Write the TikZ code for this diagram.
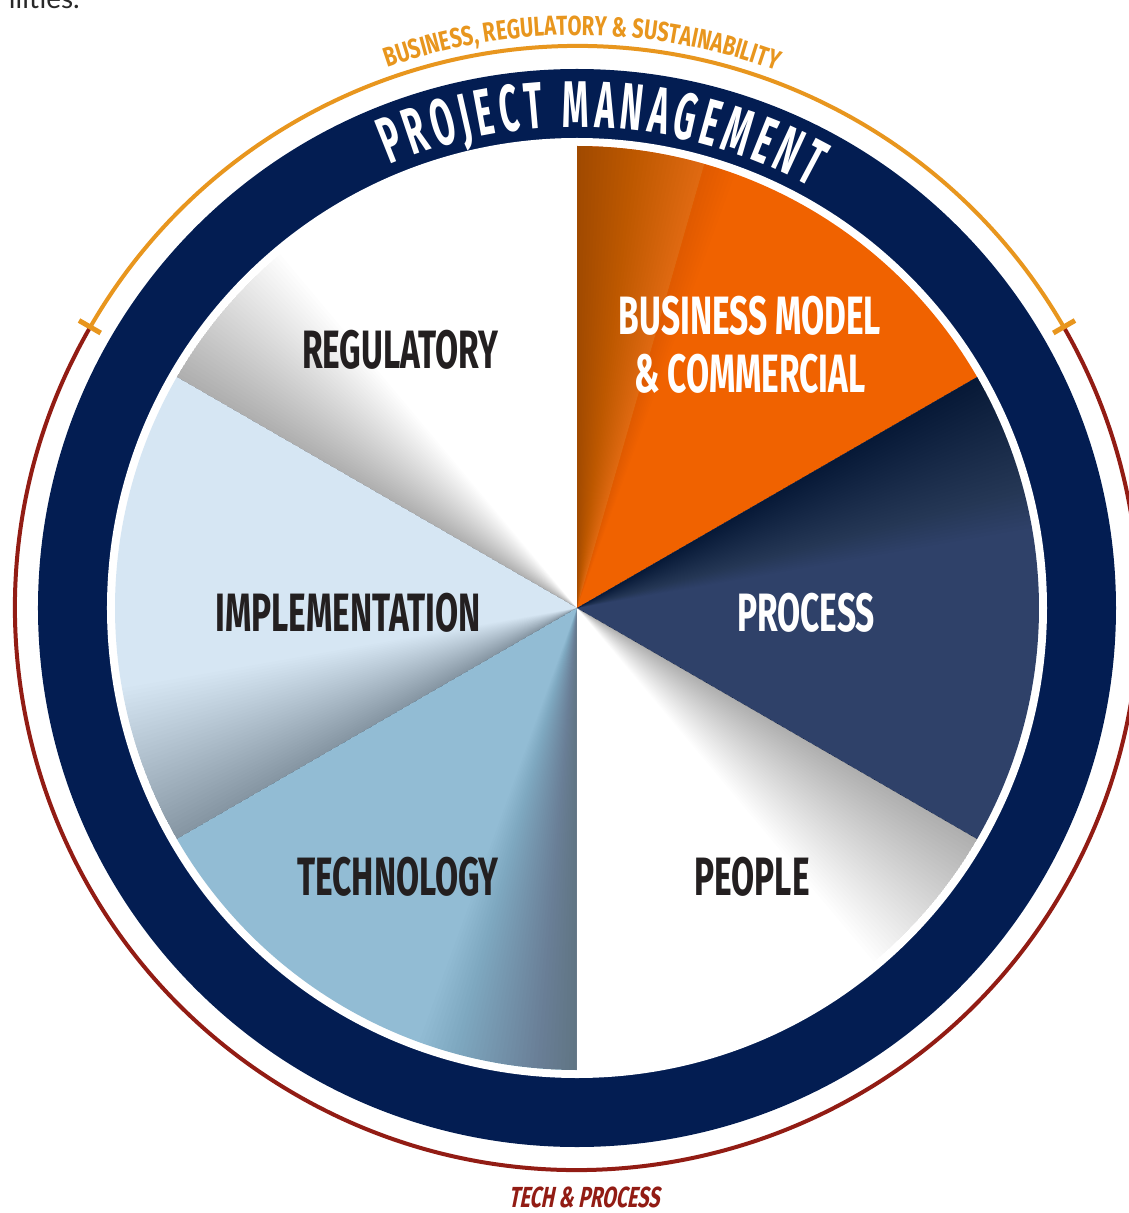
\documentclass[tikz,border=0pt]{standalone}
\usepackage{fontspec}
\usetikzlibrary{decorations.text}
\newfontfamily\cond[FakeStretch=0.62]{Fira Sans}
\newfontfamily\condw[FakeStretch=0.74]{Fira Sans}
\newfontfamily\condpm[FakeStretch=0.51]{Fira Sans}
\newfontfamily\condsl[FakeStretch=0.68,FakeSlant=0.2]{Fira Sans}
\newfontfamily\latofont{Lato}
\definecolor{navyring}{RGB}{3,29,82}
\definecolor{orangeC}{RGB}{240,98,0}
\definecolor{procC}{RGB}{47,65,105}
\definecolor{techC}{RGB}{146,188,212}
\definecolor{implC}{RGB}{214,230,243}
\definecolor{bizorange}{RGB}{232,150,30}
\definecolor{techred}{RGB}{146,28,20}
\definecolor{darktext}{RGB}{35,31,32}
\begin{document}
\begin{tikzpicture}[x=1pt,y=1pt,
  lbl/.style={inner sep=0pt, anchor=base, font=\cond\bfseries\fontsize{54}{58}\selectfont},
  arcline/.style={line width=4pt},
  tick/.style={draw=bizorange, line width=5pt}]
\useasboundingbox (-577,-605) rectangle (551,608);
\fill[white] (-577,-605) rectangle (551,608);
% cut-off page text
\node[font=\latofont\fontsize{28}{30}\selectfont, text={rgb,255:red,40;green,40;blue,40}, anchor=base east, inner sep=0pt] (pagetext) at (-497,599) {ilities.};
% outer arcs
\draw[arcline, bizorange] (150:562) arc[start angle=150, end angle=30, radius=562];
\draw[arcline, techred] (150:562) arc[start angle=150, end angle=390, radius=562];
\draw[tick] (150:550) -- (150:575);
\draw[tick] (30:550) -- (30:575);
% navy ring
\fill[navyring] (0,0) circle[radius=539];
\fill[white] (0,0) circle[radius=470];
% slices
\foreach \hi/\col in {90/orangeC,150/white,210/implC,270/techC,330/white,390/procC}{
  \fill[\col] (0,0) -- ({\hi-60}:462) arc[start angle={\hi-60}, end angle=\hi, radius=462] -- cycle;
}
\fill[white, opacity=0.1] (0,0) -- (74:462) arc[start angle=74, end angle=90, radius=462] -- cycle;
\foreach \hi/\op in {90/0.008,150/0.009,210/0.009,270/0.009,330/0.009,390/0.011}{
  \foreach \k in {1,...,40}{
    \fill[black, opacity=\op] (0,0) -- ({\hi-\k*0.5}:462) arc[start angle={\hi-\k*0.5}, end angle=\hi, radius=462] -- cycle;
  }
}
% curved texts
\path[decorate, decoration={text along path, text align=center, text color=white,
  text={|\condpm\bfseries\fontsize{66}{66}\selectfont|P{\kern5pt}R{\kern5pt}O{\kern5pt}J{\kern5pt}E{\kern5pt}C{\kern5pt}T{\kern18pt}M{\kern5pt}A{\kern5pt}N{\kern5pt}A{\kern5pt}G{\kern5pt}E{\kern5pt}M{\kern5pt}E{\kern5pt}N{\kern5pt}T}}]
  (132:481) arc[start angle=132, end angle=42, radius=481];
\path[decorate, decoration={text along path, text align=center, text color=bizorange,
  text={|\condw\bfseries\fontsize{27.5}{28}\selectfont|BUSINESS, REGULATORY {\&} SUSTAINABILITY}}]
  (129.5:573) arc[start angle=129.5, end angle=49.5, radius=573];
% labels
\node[lbl, text=white] (biz1) at (173,273) {BUSINESS MODEL};
\node[lbl, text=white] (biz2) at (173,215) {\& COMMERCIAL};
\node[lbl, text=white] (proc) at (229,-23) {PROCESS};
\node[lbl, text=darktext] (peop) at (175,-287) {PEOPLE};
\node[lbl, text=darktext] (tech) at (-179,-287) {TECHNOLOGY};
\node[lbl, text=darktext] (impl) at (-229,-23) {IMPLEMENTATION};
\node[lbl, text=darktext] (regu) at (-177,239) {REGULATORY};
\node[font=\condsl\bfseries\fontsize{29}{30}\selectfont, text=techred, anchor=base, inner sep=0pt] (techproc) at (7,-599) {TECH \& PROCESS};
\end{tikzpicture}
\end{document}
